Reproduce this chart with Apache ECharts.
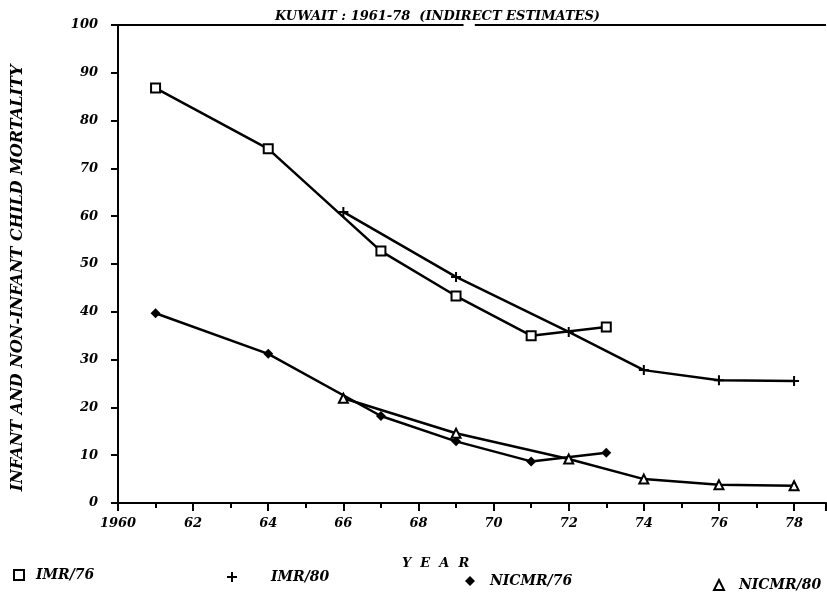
<!DOCTYPE html>
<html>
<head>
<meta charset="utf-8">
<script src="https://cdn.jsdelivr.net/npm/echarts@6/dist/echarts.min.js"></script>
<style>html,body{margin:0;padding:0;background:#fff;}#main{width:827px;height:597px;}</style>
</head>
<body>
<div id="main"></div>
<script>
var titleText = 'KUWAIT : 1961-78  (INDIRECT ESTIMATES)';
var yAxisName = 'INFANT AND NON-INFANT CHILD MORTALITY';
var xAxisName = 'Y  E  A  R';
var seriesNames = ['IMR/76', 'IMR/80', 'NICMR/76', 'NICMR/80'];
var years76 = [1961, 1964, 1967, 1969, 1971, 1973];
var years80 = [1966, 1969, 1972, 1974, 1976, 1978];
var imr76 = [86.8, 74.1, 52.7, 43.3, 35.0, 36.8];
var imr80 = [60.9, 47.3, 35.8, 27.8, 25.7, 25.5];
var nicmr76 = [39.7, 31.2, 18.2, 12.9, 8.7, 10.5];
var nicmr80 = [21.9, 14.6, 9.2, 5.0, 3.8, 3.6];

function pairs(xs, ys) { return xs.map(function (x, i) { return [x, ys[i]]; }); }

var FONT = 'DejaVu Serif';
var txt = { fontFamily: FONT, fontStyle: 'italic', fontWeight: 'bold', color: '#000' };
function ts(size, extra) { var o = Object.assign({}, txt, { fontSize: size }); return Object.assign(o, extra || {}); }

var plusPath = 'path://M4,0H6V4H10V6H6V10H4V6H0V4H4Z';
var LW = 2.5;

var chart = echarts.init(document.getElementById('main'), null, { renderer: 'canvas' });

function legendAt(name, left, top, icon, itemStyle, pad) {
  return {
    data: [name], left: left, top: top, icon: icon, itemWidth: 10, itemHeight: 10, itemGap: 0, padding: 0,
    selectedMode: false, itemStyle: itemStyle, textStyle: ts(14, { padding: [0, 0, 0, pad] })
  };
}

var option = {
  animation: false,
  backgroundColor: '#fff',
  title: { text: titleText, left: 270, top: 5, textStyle: ts(13) },
  grid: { left: 118, right: 1, top: 25, bottom: 94 },
  legend: [
    legendAt(seriesNames[0], 13, 568, 'rect', { color: '#fff', borderColor: '#000', borderWidth: 2 }, 7),
    legendAt(seriesNames[1], 227, 570, plusPath, { color: '#000', borderWidth: 0 }, 29),
    legendAt(seriesNames[2], 465, 574, 'diamond', { color: '#000', borderWidth: 0 }, 10),
    legendAt(seriesNames[3], 713, 578, 'triangle', { color: '#fff', borderColor: '#000', borderWidth: 2 }, 10)
  ],
  graphic: [
    { type: 'text', left: 402, top: 557, style: { text: xAxisName, font: 'italic bold 13px "DejaVu Serif"', fill: '#000' } }
  ],
  xAxis: {
    type: 'value', min: 1960, max: 1978.85, interval: 2,
    axisLine: { show: true, onZero: false, lineStyle: { color: '#000', width: 2 } },
    axisTick: { show: true, length: 8, lineStyle: { color: '#000', width: 2 } },
    minorTick: { show: true, splitNumber: 2, length: 5, lineStyle: { color: '#000', width: 2 } },
    splitLine: { show: false },
    axisLabel: {
      showMaxLabel: false, margin: 14,
      fontFamily: FONT, fontStyle: 'italic', fontWeight: 'bold', fontSize: 13, color: '#000',
      formatter: function (v) { if (v === 1960) return '1960'; return String(v % 100); }
    }
  },
  yAxis: {
    type: 'value', min: 0, max: 100, interval: 10,
    name: yAxisName, nameLocation: 'middle', nameGap: 92, nameRotate: 90,
    nameTextStyle: ts(16, { padding: [0, 28, 0, 0] }),
    axisLine: { show: true, lineStyle: { color: '#000', width: 2 } },
    axisTick: { show: true, length: 7, lineStyle: { color: '#000', width: 2 } },
    splitLine: { show: false },
    axisLabel: { margin: 20, fontFamily: FONT, fontStyle: 'italic', fontWeight: 'bold', fontSize: 13, color: '#000' }
  },
  series: [
    {
      name: seriesNames[0], type: 'line', data: pairs(years76, imr76),
      symbol: 'emptyRect', symbolSize: 9,
      lineStyle: { color: '#000', width: LW }, itemStyle: { color: '#000', borderColor: '#000', borderWidth: 2 },
      markLine: {
        silent: true, symbol: 'none', label: { show: false },
        lineStyle: { color: '#000', width: 2, type: 'solid' },
        data: [[{ coord: [1960, 100] }, { coord: [1969.2, 100] }], [{ coord: [1969.5, 100] }, { coord: [1978.85, 100] }]]
      }
    },
    {
      name: seriesNames[1], type: 'line', data: pairs(years80, imr80),
      symbol: plusPath, symbolSize: 10,
      lineStyle: { color: '#000', width: LW }, itemStyle: { color: '#000', borderWidth: 0 }
    },
    {
      name: seriesNames[2], type: 'line', data: pairs(years76, nicmr76),
      symbol: 'diamond', symbolSize: 10,
      lineStyle: { color: '#000', width: LW }, itemStyle: { color: '#000', borderWidth: 0 }
    },
    {
      name: seriesNames[3], type: 'line', data: pairs(years80, nicmr80),
      symbol: 'emptyTriangle', symbolSize: 9,
      lineStyle: { color: '#000', width: LW }, itemStyle: { color: '#000', borderColor: '#000', borderWidth: 2 }
    }
  ]
};
chart.setOption(option);
</script>
</body>
</html>
